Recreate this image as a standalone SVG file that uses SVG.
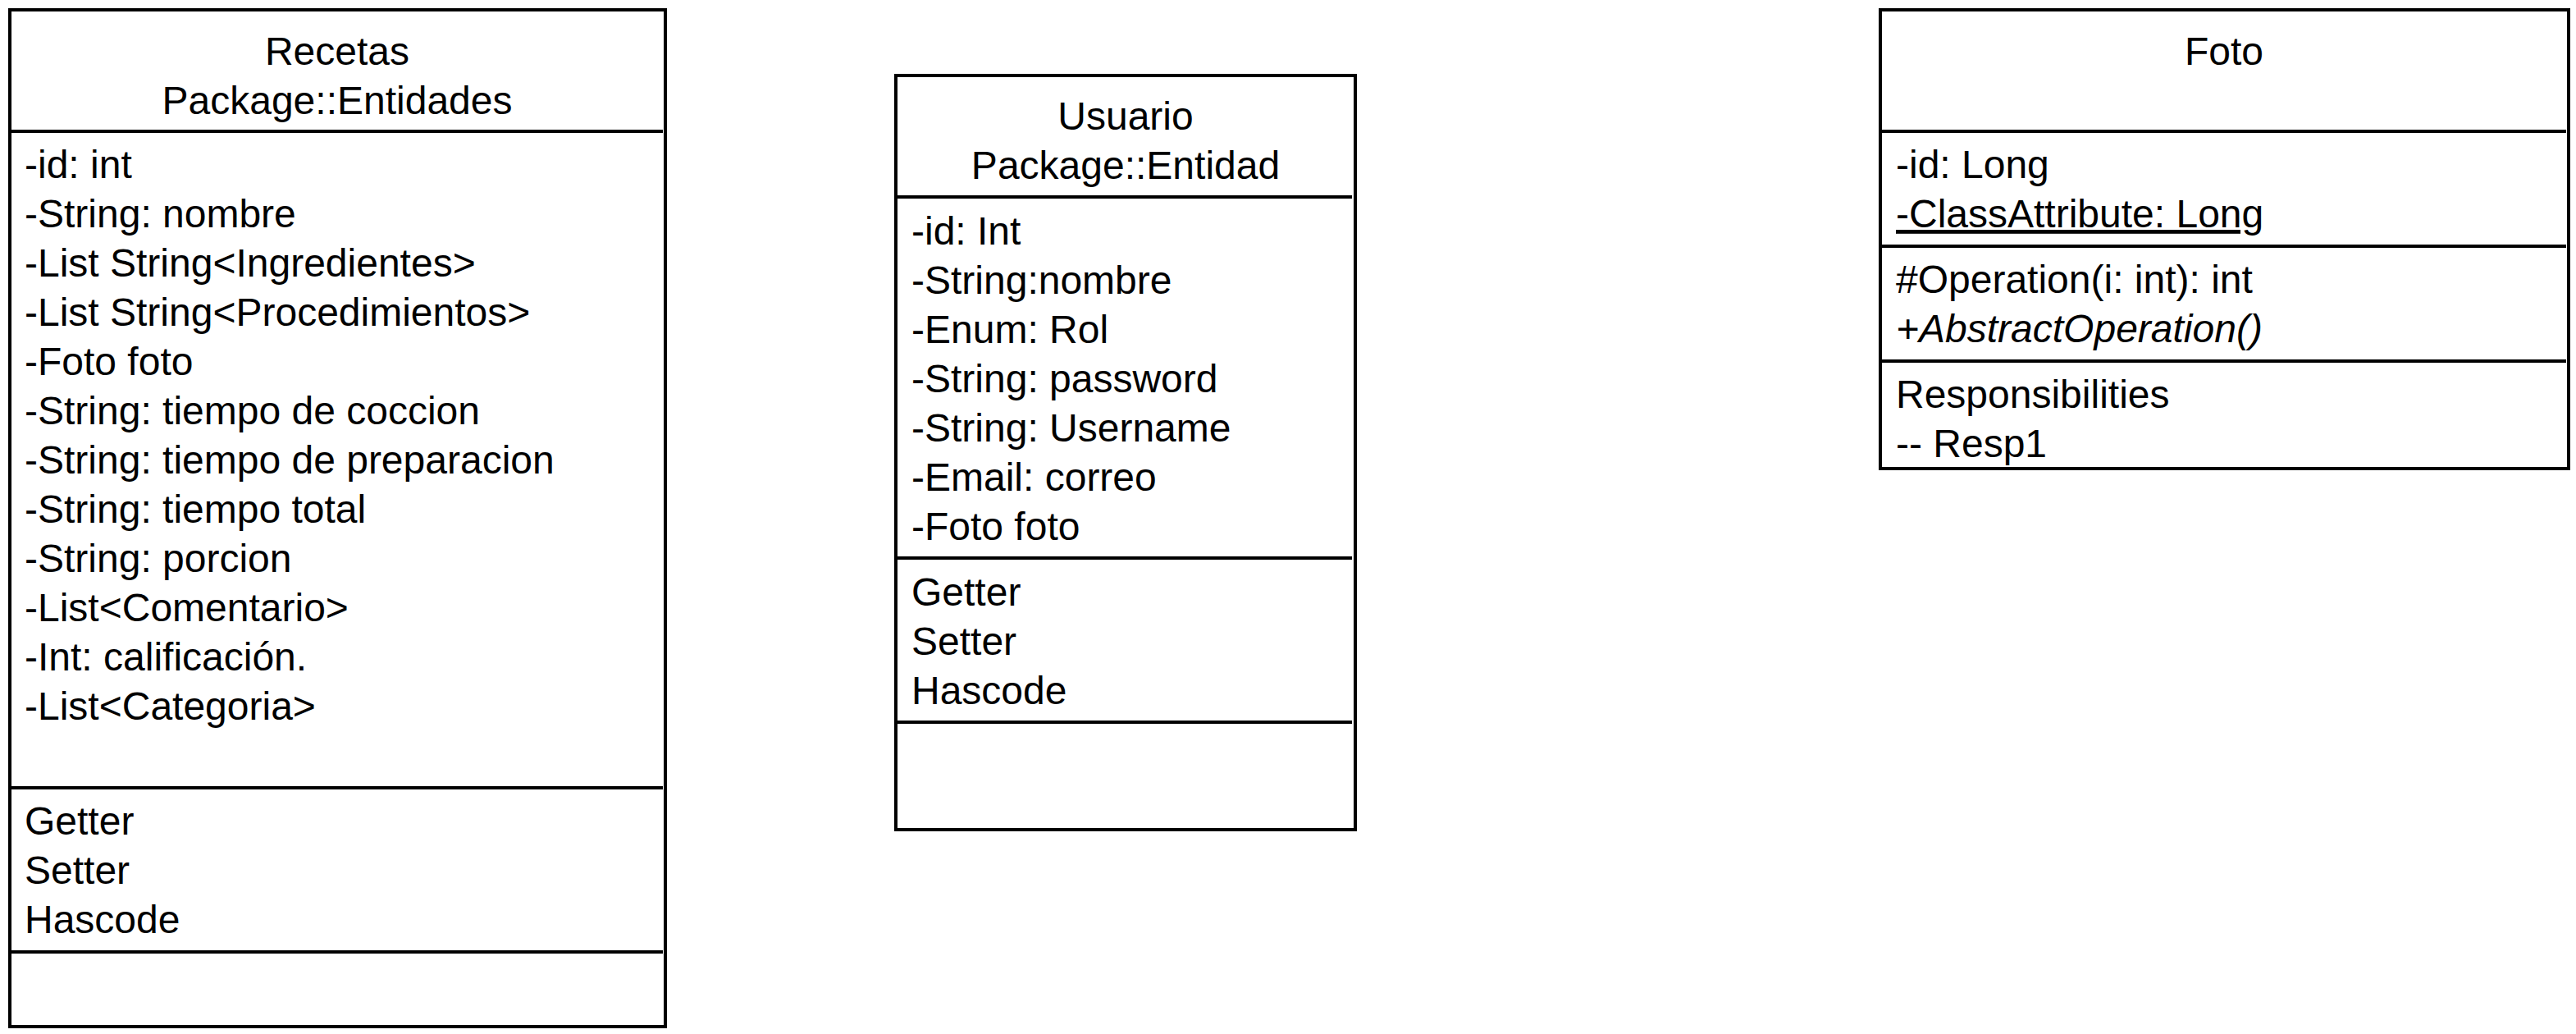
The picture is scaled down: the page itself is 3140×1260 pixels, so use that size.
<svg xmlns="http://www.w3.org/2000/svg" width="3140" height="1260" viewBox="0 0 3140 1260">
<style>
.box{fill:#ffffff;stroke:#000000;stroke-width:4}
.div{stroke:#000000;stroke-width:4;fill:none}
text{font-family:"Liberation Sans",Arial,Helvetica,sans-serif;font-size:48px;fill:#000000}
.c{text-anchor:middle}
.u{text-decoration:underline}
.i{font-style:italic}
</style>
<rect x="0" y="0" width="3140" height="1260" fill="#ffffff"/>
<g id="recetas">
<rect class="box" x="12" y="12" width="799" height="1239"/>
<line class="div" x1="12" y1="160" x2="808" y2="160"/>
<line class="div" x1="12" y1="960" x2="808" y2="960"/>
<line class="div" x1="12" y1="1160" x2="808" y2="1160"/>
<text class="c" x="411" y="79">Recetas</text>
<text class="c" x="411" y="139">Package::Entidades</text>
<text x="30" y="217">-id: int</text>
<text x="30" y="277">-String: nombre</text>
<text x="30" y="337">-List String&lt;Ingredientes&gt;</text>
<text x="30" y="397">-List String&lt;Procedimientos&gt;</text>
<text x="30" y="457">-Foto foto</text>
<text x="30" y="517">-String: tiempo de coccion</text>
<text x="30" y="577">-String: tiempo de preparacion</text>
<text x="30" y="637">-String: tiempo total</text>
<text x="30" y="697">-String: porcion</text>
<text x="30" y="757">-List&lt;Comentario&gt;</text>
<text x="30" y="817">-Int: calificación.</text>
<text x="30" y="877">-List&lt;Categoria&gt;</text>
<text x="30" y="1017">Getter</text>
<text x="30" y="1077">Setter</text>
<text x="30" y="1137">Hascode</text>
</g>
<g id="usuario">
<rect class="box" x="1092" y="92" width="560" height="919"/>
<line class="div" x1="1092" y1="240" x2="1648" y2="240"/>
<line class="div" x1="1092" y1="680" x2="1648" y2="680"/>
<line class="div" x1="1092" y1="880" x2="1648" y2="880"/>
<text class="c" x="1372" y="158">Usuario</text>
<text class="c" x="1372" y="218">Package::Entidad</text>
<text x="1111" y="298">-id: Int</text>
<text x="1111" y="358">-String:nombre</text>
<text x="1111" y="418">-Enum: Rol</text>
<text x="1111" y="478">-String: password</text>
<text x="1111" y="538">-String: Username</text>
<text x="1111" y="598">-Email: correo</text>
<text x="1111" y="658">-Foto foto</text>
<text x="1111" y="738">Getter</text>
<text x="1111" y="798">Setter</text>
<text x="1111" y="858">Hascode</text>
</g>
<g id="foto">
<rect class="box" x="2292" y="12" width="839" height="559"/>
<line class="div" x1="2292" y1="160" x2="3128" y2="160"/>
<line class="div" x1="2292" y1="300" x2="3128" y2="300"/>
<line class="div" x1="2292" y1="440" x2="3128" y2="440"/>
<text class="c" x="2711" y="79">Foto</text>
<text x="2311" y="217">-id: Long</text>
<text class="u" x="2311" y="277">-ClassAttribute: Long</text>
<text x="2311" y="357">#Operation(i: int): int</text>
<text class="i" x="2311" y="417">+AbstractOperation()</text>
<text x="2311" y="497">Responsibilities</text>
<text x="2311" y="557">-- Resp1</text>
</g>
<g id="connectors"></g>
</svg>
